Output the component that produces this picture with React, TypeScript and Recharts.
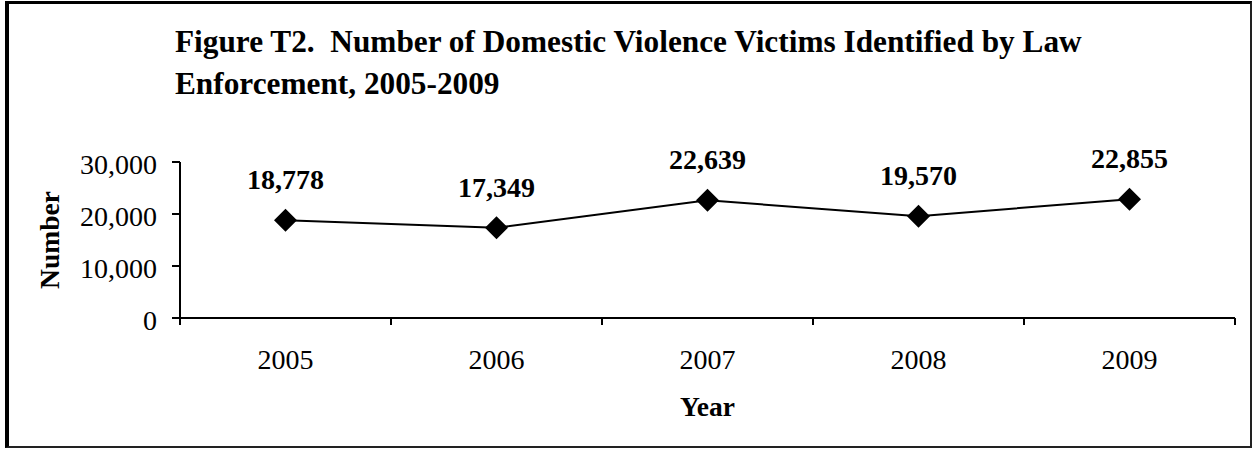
import React from 'react';
import { LineChart, Line, XAxis, YAxis, LabelList } from 'recharts';

const years = ['2005', '2006', '2007', '2008', '2009'];
const victims = [18778, 17349, 22639, 19570, 22855];
const yTicks = [0, 10000, 20000, 30000];
const titleLine1 = 'Figure T2.  Number of Domestic Violence Victims Identified by Law';
const titleLine2 = 'Enforcement, 2005-2009';

const data = years.map((year, i) => ({ year, victims: victims[i] }));

const FONT = '"Liberation Serif", "Times New Roman", serif';
const fmt = (v: number) => Number(v).toLocaleString('en-US');
const X_TICK_MARGIN = 31;
const X_TICK_LEN = 7;

const Diamond = (props: any) => {
  const { cx, cy, index } = props;
  if (cx == null || cy == null) return null;
  const r = 11.5;
  return (
    <path
      key={`d-${index}`}
      d={`M${cx},${cy - r} L${cx + r},${cy} L${cx},${cy + r} L${cx - r},${cy} Z`}
      fill="#000"
      stroke="none"
    />
  );
};

const YearTick = (props: any) => {
  const { x, y, payload, index, visibleTicksCount } = props;
  const axisY = y - X_TICK_MARGIN;
  const half = payload && typeof payload.offset === 'number' ? payload.offset : 0;
  const c = payload.coordinate;
  const isLast = index === (visibleTicksCount ?? years.length) - 1;
  return (
    <g>
      {half > 0 && (
        <line x1={c - half} x2={c - half} y1={axisY} y2={axisY + X_TICK_LEN} stroke="#000" strokeWidth={2} />
      )}
      {half > 0 && isLast && (
        <line x1={c + half} x2={c + half} y1={axisY} y2={axisY + X_TICK_LEN} stroke="#000" strokeWidth={2} />
      )}
      <text x={x} y={y} dy="0.71em" textAnchor="middle" fontSize={28} fill="#000" fontFamily={FONT}>
        {payload.value}
      </text>
    </g>
  );
};

export default function App() {
  return (
    <div style={{ position: 'absolute', left: 0, top: 0, width: 1252, height: 450, background: '#fff' }}>
      <div
        style={{
          position: 'absolute',
          left: 5,
          top: 1,
          width: 1252 - 5 - 1 - 5,
          height: 448 - 1 - 5,
          borderLeft: '4px solid #000',
          borderTop: '3px solid #000',
          borderRight: '2px solid #222',
          borderBottom: '2px solid #222',
        }}
      />
      <div
        style={{
          position: 'absolute',
          left: 175,
          top: 21,
          fontFamily: FONT,
          fontWeight: 'bold',
          fontSize: 31.3,
          lineHeight: '42px',
          whiteSpace: 'pre',
          color: '#000',
        }}
      >
        <div>{titleLine1}</div>
        <div>{titleLine2}</div>
      </div>
      <div style={{ position: 'absolute', left: 0, top: 0 }}>
        <LineChart width={1252} height={450} data={data} margin={{ top: 162, right: 17, bottom: 0, left: 80 }}>
          <XAxis
            dataKey="year"
            scale="band"
            height={132}
            tickLine={false}
            tickSize={0}
            tickMargin={X_TICK_MARGIN}
            axisLine={{ stroke: '#000', strokeWidth: 2 }}
            tick={<YearTick />}
            interval={0}
            label={{ value: 'Year', position: 'insideBottom', offset: 34, fontSize: 27.5, fontWeight: 'bold', fill: '#000', fontFamily: FONT }}
          />
          <YAxis
            width={100}
            domain={[0, 30000]}
            ticks={yTicks}
            interval={0}
            tickFormatter={fmt}
            tickSize={8}
            tickMargin={15}
            tickLine={{ stroke: '#000', strokeWidth: 2 }}
            axisLine={{ stroke: '#000', strokeWidth: 2 }}
            tick={{ fontSize: 28, fill: '#000', fontFamily: FONT, dy: 2 }}
            label={{
              value: 'Number',
              angle: -90,
              position: 'left',
              offset: 30.5,
              fontSize: 27.5,
              fontWeight: 'bold',
              fill: '#000',
              fontFamily: FONT,
              style: { textAnchor: 'middle' },
            }}
          />
          <Line
            dataKey="victims"
            stroke="#000"
            strokeWidth={2}
            dot={<Diamond />}
            activeDot={false}
            isAnimationActive={false}
          >
            <LabelList
              dataKey="victims"
              position="top"
              offset={31}
              formatter={fmt}
              fontSize={28}
              fontWeight="bold"
              fill="#000"
              fontFamily={FONT}
            />
          </Line>
        </LineChart>
      </div>
    </div>
  );
}
